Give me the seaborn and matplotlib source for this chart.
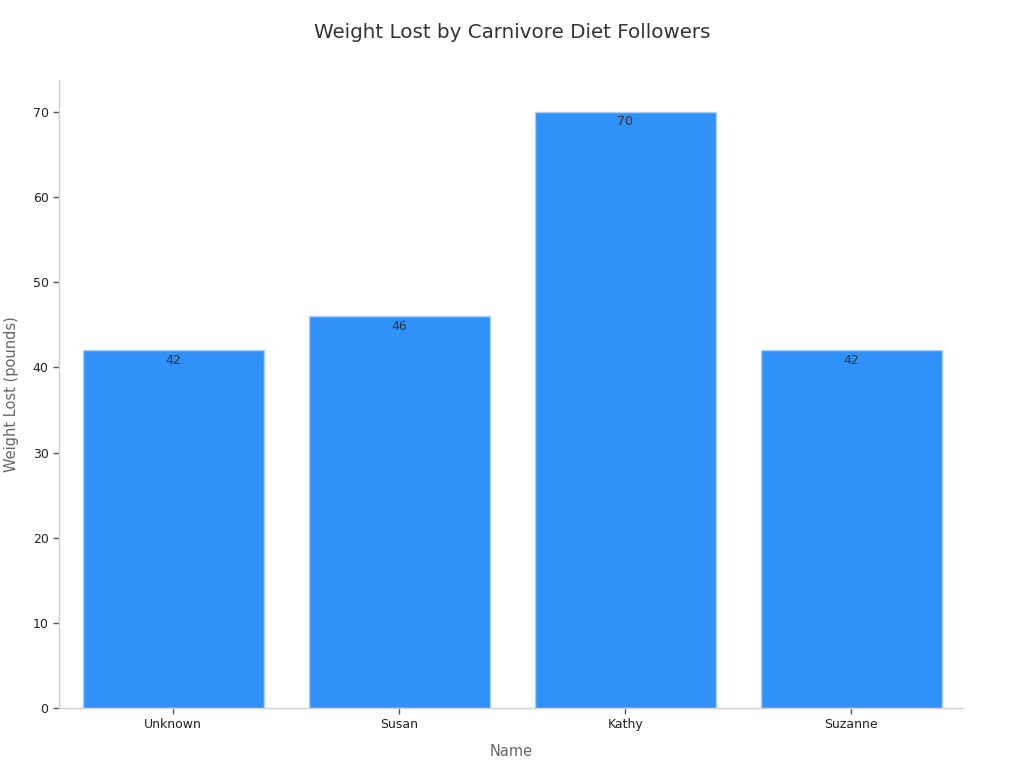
import matplotlib
matplotlib.use("Agg")
import matplotlib.pyplot as plt
import seaborn as sns
import pandas as pd

names = ["Unknown", "Susan", "Kathy", "Suzanne"]
weight_lost = [42, 46, 70, 42]

df = pd.DataFrame({"Name": names, "Weight Lost (pounds)": weight_lost})

sns.set_theme(style="white")
plt.rcParams['font.family'] = ['DejaVu Sans']

fig = plt.figure(figsize=(10.24, 7.68), dpi=100)
ax = fig.add_axes([59/1024, 1 - 708/768, (963-59)/1024, (708-80)/768])

sns.barplot(data=df, x="Name", y="Weight Lost (pounds)", color="#3092F8",
            saturation=1, width=0.8, edgecolor="#A9D0FA", linewidth=1, ax=ax)

for p, v in zip(ax.patches, weight_lost):
    ax.annotate(f"{v}", (p.get_x() + p.get_width()/2, p.get_height()),
                xytext=(0, -2.5), textcoords="offset points",
                ha="center", va="top", fontsize=9, color="#333333")

ax.set_xlim(-0.505, 3.495)
ax.set_ylim(0, 73.75)
ax.set_yticks([0, 10, 20, 30, 40, 50, 60, 70])
for s in ["top", "right"]:
    ax.spines[s].set_visible(False)
for s in ["left", "bottom"]:
    ax.spines[s].set_color("#D0D0D0")
    ax.spines[s].set_linewidth(1)
ax.tick_params(axis="both", which="both", length=4, width=1, color="#555555",
               labelsize=9, labelcolor="#222222", bottom=True, left=True)
ax.set_xlabel("Name", fontsize=10.5, color="#666666", labelpad=9)
ax.set_ylabel("Weight Lost (pounds)", fontsize=10.5, color="#666666", labelpad=10)
fig.text(0.5, 1 - 33/768, "Weight Lost by Carnivore Diet Followers",
         ha="center", va="center", fontsize=14.3, color="#333333")

fig.savefig("out.png", dpi=100)
